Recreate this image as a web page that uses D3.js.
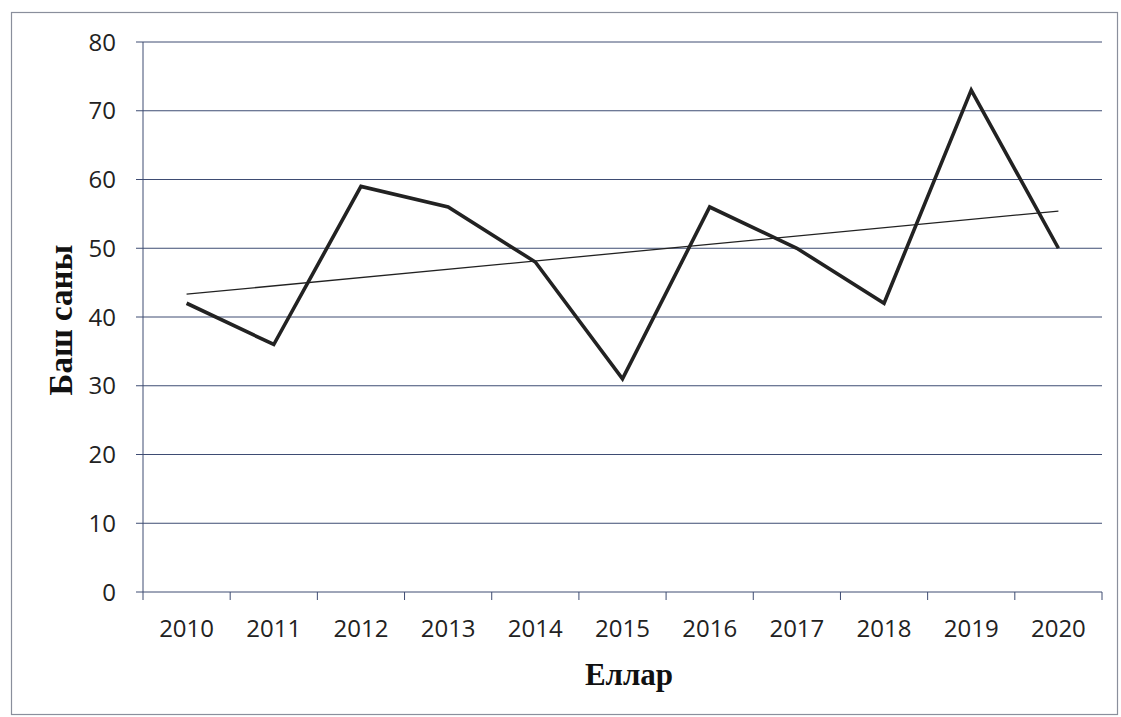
<!DOCTYPE html>
<html><head><meta charset="utf-8">
<script src="https://cdn.jsdelivr.net/npm/d3@7"></script>
<style>body{margin:0;background:#fff}svg{display:block}</style>
</head><body>
<script>
const years = ["2010","2011","2012","2013","2014","2015","2016","2017","2018","2019","2020"];
const values = [42,36,59,56,48,31,56,50,42,73,50];
const yTicks = [0,10,20,30,40,50,60,70,80];
const yTitle = "Баш саны";
const xTitle = "Еллар";

const W=1121,H=717;
const svg=d3.select("body").append("svg").attr("width",W).attr("height",H);
svg.append("rect").attr("x",11.5).attr("y",12.5).attr("width",1106).attr("height",702)
  .attr("fill","#fff").attr("stroke","#8a8f9c").attr("stroke-width",1.2);

const L=143,R=1102,T=42,B=592;
const x=d3.scaleBand().domain(years).range([L,R]);
const y=d3.scaleLinear().domain([0,80]).range([B,T]);
const gridC="#3e4c73";
const tickFont="'Open Sans', 'Liberation Sans', sans-serif";

// gridlines
svg.append("g").selectAll("line").data(yTicks).join("line")
  .attr("x1",L-7).attr("x2",R).attr("y1",d=>y(d)).attr("y2",d=>y(d))
  .attr("stroke",gridC).attr("stroke-width",1);

// y axis line
svg.append("line").attr("x1",L).attr("x2",L).attr("y1",T).attr("y2",B).attr("stroke",gridC).attr("stroke-width",1);

// y labels
svg.append("g").selectAll("text").data(yTicks).join("text")
  .attr("x",L-27).attr("y",d=>y(d)).attr("dy","0.36em").attr("text-anchor","end")
  .attr("font-family",tickFont).attr("font-size",24).attr("fill","#222")
  .text(d=>d);

// x axis ticks at band boundaries
const bounds=years.map(d=>x(d)).concat([R]);
svg.append("g").selectAll("line").data(bounds).join("line")
  .attr("x1",d=>d).attr("x2",d=>d).attr("y1",B).attr("y2",B+8).attr("stroke",gridC).attr("stroke-width",1);

svg.append("g").selectAll("text").data(years).join("text")
  .attr("x",d=>x(d)+x.bandwidth()/2).attr("y",B+45).attr("text-anchor","middle")
  .attr("font-family",tickFont).attr("font-size",24).attr("fill","#222")
  .text(d=>d);

// trend line (least squares)
const n=values.length, idx=d3.range(n);
const mx=d3.mean(idx), my=d3.mean(values);
const slope=d3.sum(idx,i=>(i-mx)*(values[i]-my))/d3.sum(idx,i=>(i-mx)**2);
const icpt=my-slope*mx;
const cx=i=>x(years[i])+x.bandwidth()/2;
svg.append("line").attr("x1",cx(0)).attr("y1",y(icpt)).attr("x2",cx(n-1)).attr("y2",y(icpt+slope*(n-1)))
  .attr("stroke","#222").attr("stroke-width",1.3);

// data line
const line=d3.line().x((d,i)=>cx(i)).y(d=>y(d));
svg.append("path").datum(values).attr("d",line).attr("fill","none")
  .attr("stroke","#222").attr("stroke-width",3.6).attr("stroke-linejoin","miter");

// titles
svg.append("text").attr("transform","translate(72,320) rotate(-90)").attr("text-anchor","middle")
  .attr("font-family","'Liberation Serif', 'Times New Roman', serif").attr("font-weight","bold").attr("font-size",33).attr("fill","#111")
  .text(yTitle);
svg.append("text").attr("x",629).attr("y",685).attr("text-anchor","middle")
  .attr("font-family","'Liberation Serif', 'Times New Roman', serif").attr("font-weight","bold").attr("font-size",31).attr("fill","#111")
  .text(xTitle);
</script>
</body></html>
